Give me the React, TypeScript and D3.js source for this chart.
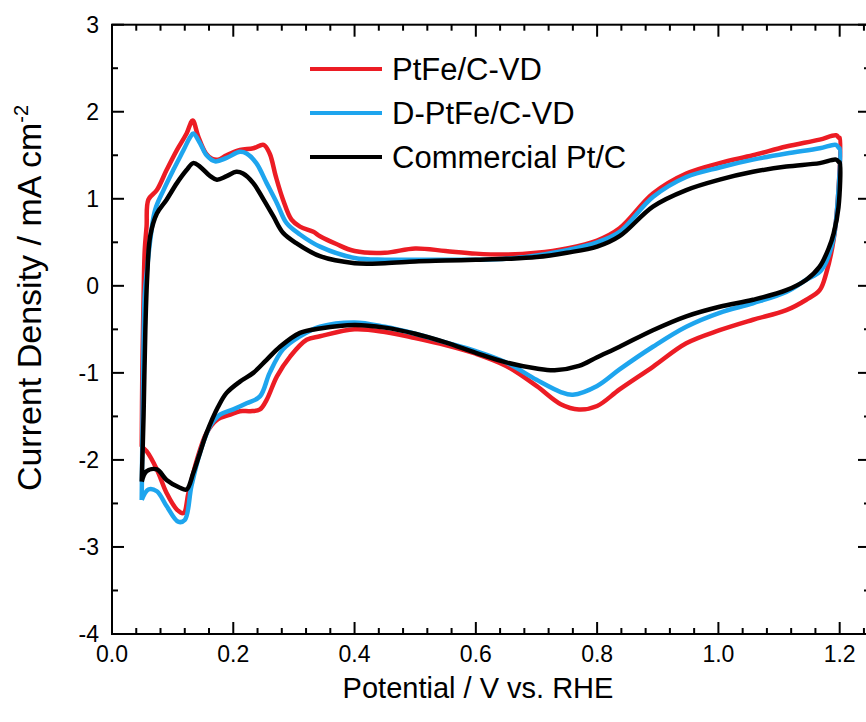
import React from "react";
import * as d3 from "d3";

// ---- Data ----
const xTicks = [0.0, 0.2, 0.4, 0.6, 0.8, 1.0, 1.2];
const yTicks = [-4, -3, -2, -1, 0, 1, 2, 3];

const seriesNames = ["PtFe/C-VD", "D-PtFe/C-VD", "Commercial Pt/C"];
const seriesColors = ["#ec1c24", "#1ea5ee", "#000000"];

// PtFe/C-VD
const redAnodicV = [0.049, 0.05, 0.052, 0.054, 0.057, 0.06, 0.074, 0.09, 0.107, 0.123, 0.133, 0.142, 0.155, 0.165, 0.175, 0.189, 0.211, 0.233, 0.25, 0.26, 0.27, 0.282, 0.296, 0.31, 0.332, 0.343, 0.37, 0.4, 0.45, 0.5, 0.55, 0.6, 0.65, 0.7, 0.75, 0.8, 0.837, 0.892, 0.947, 1.002, 1.057, 1.112, 1.167, 1.194, 1.199];
const redAnodicJ = [-1.85, -1.0, -0.16, 0.41, 0.68, 0.99, 1.1, 1.33, 1.56, 1.75, 1.9, 1.72, 1.52, 1.46, 1.45, 1.5, 1.56, 1.58, 1.62, 1.52, 1.26, 0.99, 0.76, 0.68, 0.62, 0.57, 0.48, 0.4, 0.38, 0.43, 0.4, 0.37, 0.36, 0.38, 0.43, 0.52, 0.66, 1.06, 1.29, 1.41, 1.5, 1.6, 1.68, 1.73, 1.7];
const redCathodicV = [1.2, 1.198, 1.19, 1.178, 1.167, 1.145, 1.112, 1.057, 1.002, 0.947, 0.892, 0.837, 0.8, 0.77, 0.74, 0.7, 0.65, 0.6, 0.55, 0.5, 0.45, 0.4, 0.343, 0.321, 0.294, 0.272, 0.255, 0.244, 0.228, 0.211, 0.195, 0.173, 0.156, 0.14, 0.126, 0.118, 0.107, 0.09, 0.074, 0.057, 0.049];
const redCathodicJ = [1.7, 1.1, 0.53, 0.15, -0.05, -0.16, -0.28, -0.39, -0.51, -0.66, -0.93, -1.19, -1.38, -1.42, -1.36, -1.15, -0.92, -0.78, -0.68, -0.6, -0.53, -0.5, -0.58, -0.62, -0.81, -1.04, -1.31, -1.42, -1.44, -1.44, -1.48, -1.54, -1.69, -2.0, -2.38, -2.61, -2.57, -2.38, -2.11, -1.9, -1.85];

// D-PtFe/C-VD
const blueAnodicV = [0.049, 0.051, 0.054, 0.058, 0.063, 0.071, 0.085, 0.101, 0.118, 0.129, 0.134, 0.145, 0.156, 0.17, 0.189, 0.211, 0.222, 0.238, 0.255, 0.272, 0.288, 0.31, 0.343, 0.4, 0.45, 0.5, 0.55, 0.6, 0.65, 0.7, 0.75, 0.8, 0.837, 0.892, 0.947, 1.002, 1.057, 1.112, 1.167, 1.194, 1.199];
const blueAnodicJ = [-2.46, -1.2, -0.1, 0.2, 0.52, 0.87, 1.1, 1.33, 1.56, 1.71, 1.75, 1.64, 1.5, 1.43, 1.47, 1.54, 1.52, 1.41, 1.18, 0.95, 0.72, 0.59, 0.45, 0.32, 0.3, 0.3, 0.3, 0.3, 0.31, 0.35, 0.41, 0.5, 0.62, 1.02, 1.25, 1.36, 1.45, 1.52, 1.58, 1.62, 1.58];
const blueCathodicV = [1.2, 1.197, 1.19, 1.178, 1.167, 1.145, 1.112, 1.057, 1.002, 0.947, 0.892, 0.837, 0.8, 0.76, 0.74, 0.7, 0.65, 0.6, 0.55, 0.5, 0.45, 0.4, 0.343, 0.31, 0.282, 0.26, 0.244, 0.222, 0.2, 0.178, 0.162, 0.145, 0.131, 0.12, 0.109, 0.09, 0.074, 0.06, 0.049];
const blueCathodicJ = [1.58, 1.0, 0.55, 0.28, 0.16, 0.07, -0.07, -0.2, -0.31, -0.47, -0.7, -0.96, -1.15, -1.25, -1.22, -1.08, -0.88, -0.75, -0.65, -0.55, -0.47, -0.42, -0.47, -0.58, -0.73, -1.0, -1.27, -1.35, -1.42, -1.48, -1.61, -1.92, -2.3, -2.69, -2.71, -2.53, -2.36, -2.34, -2.46];

// Commercial Pt/C
const blackAnodicV = [0.049, 0.052, 0.055, 0.058, 0.063, 0.074, 0.09, 0.107, 0.123, 0.134, 0.145, 0.162, 0.173, 0.189, 0.205, 0.216, 0.233, 0.25, 0.266, 0.282, 0.304, 0.343, 0.4, 0.45, 0.5, 0.55, 0.6, 0.65, 0.7, 0.75, 0.8, 0.837, 0.892, 0.947, 1.002, 1.057, 1.112, 1.167, 1.194, 1.199];
const blackAnodicJ = [-2.25, -1.5, -0.5, 0.1, 0.57, 0.83, 0.99, 1.18, 1.33, 1.41, 1.37, 1.26, 1.22, 1.26, 1.31, 1.29, 1.18, 0.99, 0.8, 0.61, 0.49, 0.34, 0.26, 0.26, 0.28, 0.29, 0.3, 0.31, 0.33, 0.38, 0.45, 0.57, 0.91, 1.1, 1.22, 1.31, 1.37, 1.41, 1.45, 1.42];
const blackCathodicV = [1.2, 1.198, 1.19, 1.183, 1.167, 1.145, 1.112, 1.057, 1.002, 0.947, 0.892, 0.837, 0.8, 0.77, 0.73, 0.7, 0.65, 0.6, 0.55, 0.5, 0.45, 0.4, 0.343, 0.31, 0.277, 0.255, 0.233, 0.211, 0.189, 0.175, 0.156, 0.145, 0.134, 0.123, 0.112, 0.09, 0.074, 0.057, 0.049];
const blackCathodicJ = [1.42, 0.9, 0.6, 0.45, 0.22, 0.07, -0.05, -0.16, -0.24, -0.35, -0.51, -0.7, -0.82, -0.92, -0.97, -0.95, -0.88, -0.77, -0.65, -0.55, -0.48, -0.45, -0.49, -0.54, -0.7, -0.85, -1.0, -1.1, -1.23, -1.39, -1.69, -1.92, -2.15, -2.34, -2.32, -2.23, -2.11, -2.13, -2.25];

const loops = [
  { av: redAnodicV, aj: redAnodicJ, cv: redCathodicV, cj: redCathodicJ },
  { av: blueAnodicV, aj: blueAnodicJ, cv: blueCathodicV, cj: blueCathodicJ },
  { av: blackAnodicV, aj: blackAnodicJ, cv: blackCathodicV, cj: blackCathodicJ },
];

const W = 866;
const H = 722;
const M = { left: 112, right: 870, top: 24.7, bottom: 634 };

export default function App() {
  const x = d3.scaleLinear().domain([0, 1.25]).range([M.left, M.right]);
  const y = d3.scaleLinear().domain([-4, 3]).range([M.bottom, M.top]);

  const line = d3
    .line<[number, number]>()
    .x((d) => x(d[0]))
    .y((d) => y(d[1]))
    .curve(d3.curveCatmullRom.alpha(0.5));

  const xMinor = d3.range(0, 1.2501, 0.04).filter((v) => Math.abs(v / 0.2 - Math.round(v / 0.2)) > 1e-6);
  const yMinor = d3.range(-3.5, 3, 1);

  const font = "Arial, 'Liberation Sans', Helvetica, sans-serif";
  const tickW = 2;

  return (
    <svg width={W} height={H} style={{ position: "absolute", left: 0, top: 0, background: "#fff" }} fontFamily={font}>
      <rect x={0} y={0} width={W} height={H} fill="#fff" />
      {/* curves */}
      {loops.map((l, i) => {
        const pts: [number, number][] = [
          ...l.av.map((v, k) => [v, l.aj[k]] as [number, number]),
          ...l.cv.map((v, k) => [v, l.cj[k]] as [number, number]),
        ];
        return (
          <path key={i} d={line(pts) || ""} fill="none" stroke={seriesColors[i]} strokeWidth={4.5} strokeLinejoin="round" />
        );
      })}
      {/* frame */}
      <rect x={M.left} y={M.top} width={M.right - M.left} height={M.bottom - M.top} fill="none" stroke="#000" strokeWidth={2} />
      {/* x ticks */}
      {xTicks.map((t) => (
        <g key={"x" + t}>
          <line x1={x(t)} x2={x(t)} y1={M.bottom} y2={M.bottom - 12} stroke="#000" strokeWidth={tickW} />
          <line x1={x(t)} x2={x(t)} y1={M.top} y2={M.top + 12} stroke="#000" strokeWidth={tickW} />
          <text x={x(t)} y={662} fontSize={23} textAnchor="middle">{t.toFixed(1)}</text>
        </g>
      ))}
      {xMinor.map((t) => (
        <g key={"xm" + t}>
          <line x1={x(t)} x2={x(t)} y1={M.bottom} y2={M.bottom - 6} stroke="#000" strokeWidth={tickW} />
          <line x1={x(t)} x2={x(t)} y1={M.top} y2={M.top + 6} stroke="#000" strokeWidth={tickW} />
        </g>
      ))}
      {/* y ticks */}
      {yTicks.map((t) => (
        <g key={"y" + t}>
          <line x1={M.left} x2={M.left + 12} y1={y(t)} y2={y(t)} stroke="#000" strokeWidth={tickW} />
          <line x1={M.right} x2={M.right - 12} y1={y(t)} y2={y(t)} stroke="#000" strokeWidth={tickW} />
          <text x={99} y={y(t) + 8} fontSize={23} textAnchor="end">{t}</text>
        </g>
      ))}
      {yMinor.map((t) => (
        <g key={"ym" + t}>
          <line x1={M.left} x2={M.left + 6} y1={y(t)} y2={y(t)} stroke="#000" strokeWidth={tickW} />
          <line x1={M.right} x2={M.right - 6} y1={y(t)} y2={y(t)} stroke="#000" strokeWidth={tickW} />
        </g>
      ))}
      {/* axis titles */}
      <text x={478} y={698} fontSize={29} textAnchor="middle">Potential / V vs. RHE</text>
      <text transform={`translate(41, 298) rotate(-90)`} fontSize={34} textAnchor="middle">
        Current Density / mA cm<tspan dy={-13} fontSize={20}>-2</tspan>
      </text>
      {/* legend */}
      {seriesNames.map((n, i) => (
        <g key={n}>
          <line x1={310} x2={382} y1={69 + i * 44} y2={69 + i * 44} stroke={seriesColors[i]} strokeWidth={4} />
          <text x={392} y={80 + i * 44} fontSize={31}>{n}</text>
        </g>
      ))}
    </svg>
  );
}
